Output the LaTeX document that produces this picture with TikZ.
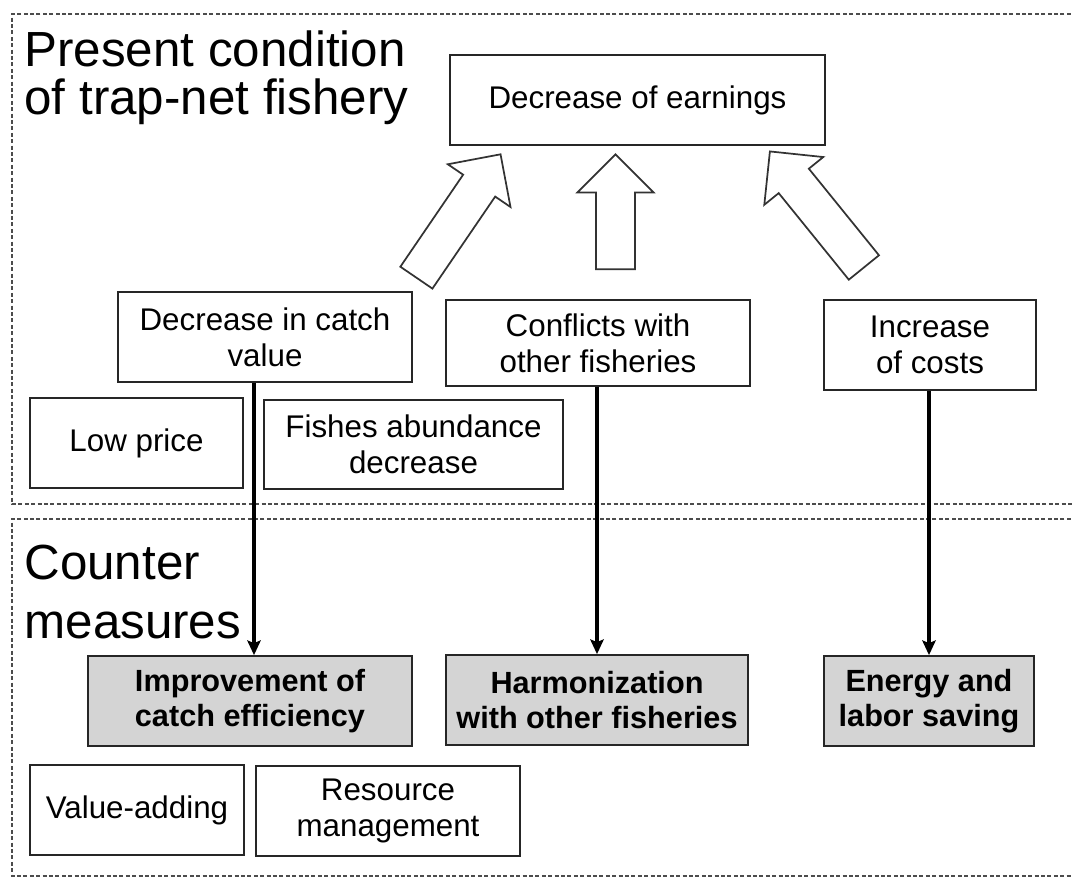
\documentclass[tikz,border=0pt]{standalone}
\usepackage{fontspec}
\setmainfont{Liberation Sans}
\usetikzlibrary{shapes, shapes.arrows, arrows.meta}
\usetikzlibrary{positioning}
\tikzset{every picture/.style={line width=0.75pt}}

\begin{document}
\begin{tikzpicture}[x=0.75pt,y=0.75pt,yscale=-1,xscale=1]

     \tikzstyle{theme} = [fill = white,
						draw = black!85,
						line width = 1.3pt,
						minimum height = 67.5pt,
						inner sep = 4pt,
						align = center,
						font = \fontsize{23.5}{27}\selectfont
						]
     \tikzstyle{measure} = [theme,
						fill = black!17,
						font = \fontsize{23}{26}\selectfont\bfseries
						]
     \tikzstyle{title} = [anchor = north west, inner sep = 0pt, align = left]
     \tikzstyle{frame} = [draw = black!70, line width = 1.2pt, dash pattern = on 3pt off 1.8pt]
     \tikzstyle{bigarrow} = [single arrow, draw = black!80, line width = 1.3pt,
						inner sep = 0pt, inner ysep = 13.9pt,
						single arrow head extend = 13.9pt,
						single arrow tip angle = 90]
     \tikzstyle{link} = [draw, line width = 2.3pt, -{Stealth[length=11pt, width=10pt, inset=2pt]}]

\useasboundingbox (0,0) rectangle (1072,878);

% frames
\draw[frame] (1090,14) -- (12,14) -- (12,504) -- (1090,504);
\draw[frame] (1090,519) -- (12,519) -- (12,876) -- (1090,876);

\node[title, font=\fontsize{37}{36}\selectfont] (present) at (24,30) {Present condition\\of trap-net fishery};
\node[title, font=\fontsize{37}{44}\selectfont] (counter) at (24,545) {Counter\\measures};

% present condition
\node[theme, minimum width=281pt] (earn) at (637.5,100) {Decrease of earnings};
\node[theme, minimum width=220.5pt] (catch) at (265,337) {Decrease in catch\\value};
\node[theme, minimum width=228pt, minimum height=64.5pt] (confl) at (598,343) {Conflicts with\\other fisheries};
\node[theme, minimum width=159pt] (costs) at (930,345) {Increase\\of costs};
\node[theme, minimum width=160pt] (low) at (136.5,443) {Low price};
\node[theme, minimum width=224pt, minimum height=67pt] (abund) at (413.5,444.5) {Fishes abundance\\decrease};

\node[bigarrow, minimum height=112pt, rotate=55.7] (upL) at (453,224) {};
\node[bigarrow, minimum height=86pt, rotate=90] (upM) at (615.5,221.5) {};
\node[bigarrow, minimum height=112pt, rotate=129] (upR) at (823,217) {};

% counter measures
\node[measure, minimum width=243pt] (impr) at (250,701) {Improvement of\\catch efficiency};
\node[measure, minimum width=226.5pt] (harm) at (597,700) {Harmonization\\with other fisheries};
\node[measure, minimum width=157.5pt] (saving) at (929,701) {Energy and\\labor saving};
\node[theme, minimum width=160.5pt] (value) at (137,810) {Value-adding};
\node[theme, minimum width=198pt] (resource) at (388,811) {Resource\\management};

\draw[link] (catch.south -| 254,0) -- (impr.north -| 254,0);
\draw[link] (confl.south -| harm.north) -- (harm.north);
\draw[link] (costs.south -| saving.north) -- (saving.north);

\end{tikzpicture}
\end{document}
